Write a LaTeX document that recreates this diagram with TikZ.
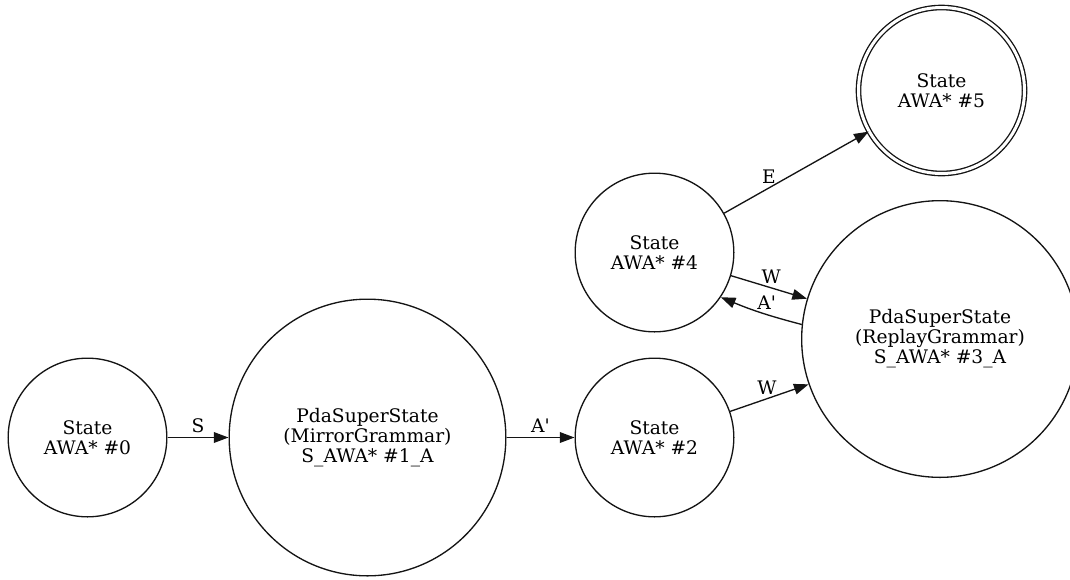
\documentclass[tikz,border=0pt]{standalone}
\usepackage{fontspec}
\setmainfont{DejaVu Serif}
\usepackage{tikz}
\usepackage{xcolor}
\usetikzlibrary{arrows.meta,positioning,shapes.geometric}
\definecolor{ink}{RGB}{20, 20, 20}
\tikzstyle{arrow} = [
    line width=1pt,
    -{Triangle[length=11pt,width=8pt]},
    draw=ink
]
\tikzstyle{state} = [
    circle,
    minimum size=119pt,
    inner sep=0pt,
    align=center,
    draw=ink,
    line width=1pt,
    font=\fontsize{14}{15}\selectfont
]
\tikzstyle{superstate} = [
    state,
    minimum size=207.5pt
]
\tikzstyle{accepting} = [
    state,
    minimum size=124.5pt,
    double,
    double distance=2.25pt
]
\tikzstyle{edgelabel} = [
    inner sep=3pt,
    font=\fontsize{14}{15}\selectfont
]

\begin{document}
\begin{tikzpicture}[x=0.75pt, y=-0.75pt]
        \useasboundingbox (0,0) rectangle (1070,579);
        % states
        \node[state] (s0) at (87.5,437.5) {State\\AWA* \#0};
        \node[superstate, right=45.75pt of s0] (s1) {PdaSuperState\\(MirrorGrammar)\\S\_AWA* \#1\_A};
        \node[state, right=51pt of s1] (s2) {State\\AWA* \#2};
        \node[state, above=18.75pt of s2] (s4) {State\\AWA* \#4};
        \node[superstate] (s3) at (940,339) {PdaSuperState\\(ReplayGrammar)\\S\_AWA* \#3\_A};
        \node[accepting] (s5) at (941.5,90.5) {State\\AWA* \#5};
        % transitions
        \draw[arrow] (s0) -- node[edgelabel, above] (lS) {S} (s1);
        \draw[arrow] (s1) -- node[edgelabel, above] (lA1) {A\textquotesingle} (s2);
        \draw[arrow] (s2) -- node[edgelabel, above, pos=0.47] (lW1) {W} (s3);
        \draw[arrow] (s4) -- node[edgelabel, above, pos=0.53] (lW2) {W} (s3);
        \draw[arrow] (s3.174.6) to[bend left=4] node[edgelabel, above, pos=0.42] (lA2) {A\textquotesingle} (s4.-34);
        \draw[arrow] (s4) -- node[edgelabel, above, pos=0.31] (lE) {E} (s5);
    \end{tikzpicture}
\end{document}
